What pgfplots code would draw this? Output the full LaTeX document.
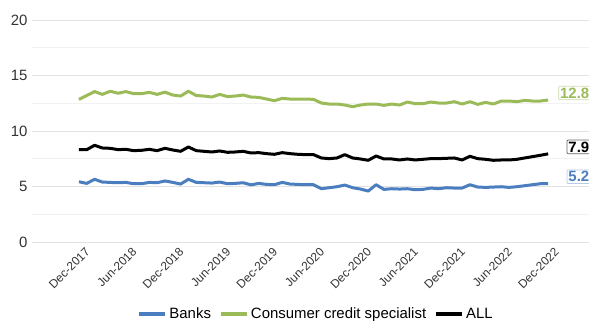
\documentclass[border=0pt]{standalone}
\usepackage{pgfplots}
\pgfplotsset{compat=1.18}
\usepackage{pgfplotstable}
\usepackage{fontspec}
\setmainfont{Liberation Sans}
\definecolor{cbank}{HTML}{4A7EBF}
\definecolor{ccs}{HTML}{9BBB59}
\definecolor{cgrid}{HTML}{E2E2E2}
\definecolor{cminor}{HTML}{F2F2F2}
\definecolor{ctick}{HTML}{333333}

\pgfplotstableread{
i banks ccs all
0 5.43 12.85 8.32
1 5.28 13.20 8.32
2 5.65 13.55 8.71
3 5.40 13.30 8.47
4 5.37 13.58 8.44
5 5.34 13.40 8.32
6 5.37 13.55 8.35
7 5.25 13.36 8.23
8 5.25 13.36 8.26
9 5.37 13.48 8.35
10 5.34 13.30 8.23
11 5.50 13.50 8.44
12 5.37 13.24 8.29
13 5.22 13.15 8.17
14 5.65 13.58 8.56
15 5.37 13.20 8.23
16 5.34 13.15 8.17
17 5.31 13.06 8.11
18 5.40 13.30 8.20
19 5.25 13.10 8.08
20 5.28 13.15 8.11
21 5.34 13.24 8.17
22 5.15 13.06 8.02
23 5.28 13.03 8.05
24 5.19 12.88 7.96
25 5.16 12.73 7.90
26 5.37 12.94 8.05
27 5.22 12.88 7.96
28 5.19 12.88 7.90
29 5.16 12.88 7.87
30 5.16 12.85 7.87
31 4.80 12.52 7.57
32 4.89 12.43 7.51
33 4.98 12.43 7.57
34 5.13 12.34 7.87
35 4.89 12.19 7.57
36 4.77 12.34 7.48
37 4.59 12.43 7.36
38 5.16 12.43 7.75
39 4.74 12.31 7.48
40 4.80 12.43 7.48
41 4.77 12.34 7.39
42 4.80 12.61 7.48
43 4.71 12.46 7.39
44 4.74 12.46 7.45
45 4.86 12.61 7.51
46 4.80 12.52 7.51
47 4.89 12.52 7.54
48 4.86 12.64 7.57
49 4.86 12.43 7.39
50 5.16 12.64 7.72
51 4.95 12.40 7.51
52 4.92 12.58 7.45
53 4.95 12.43 7.36
54 4.98 12.70 7.39
55 4.92 12.70 7.39
56 4.98 12.64 7.45
57 5.07 12.76 7.57
58 5.16 12.70 7.69
59 5.25 12.70 7.81
60 5.25 12.79 7.94
}\datatable

\begin{document}
\begin{tikzpicture}
\begin{axis}[
  scale only axis,
  width=578.7bp, height=222bp,
  xmin=-6, xmax=68, ymin=0, ymax=20,
  axis line style={draw=none},
  tick style={draw=none},
  ytick={0,5,10,15,20},
  minor ytick={2.5,7.5,12.5,17.5},
  ymajorgrids, yminorgrids,
  major grid style={cgrid, line width=0.8bp},
  minor grid style={cminor, line width=0.8bp},
  xtick={2,8,14,20,26,32,38,44,50,56,62},
  xticklabels={Dec-2017,Jun-2018,Dec-2018,Jun-2019,Dec-2019,Jun-2020,Dec-2020,Jun-2021,Dec-2021,Jun-2022,Dec-2022},
  xticklabel style={xshift=-10bp, yshift=-3bp, rotate=45, anchor=north east, inner sep=1bp, font=\fontsize{12}{13}\selectfont, text=ctick},
  yticklabel style={font=\fontsize{15}{17}\selectfont, text=ctick, anchor=east, xshift=-1bp},
  /pgf/number format/assume math mode=true,
  legend style={at={(0.491,-0.325)}, anchor=center, legend columns=-1, draw=none, fill=none,
    font=\fontsize{15}{17}\selectfont,
    /tikz/every even column/.append style={column sep=6bp}},
  legend image code/.code={\draw[line width=4bp] (0bp,0bp) -- (26bp,0bp);},
  clip=false,
]
\coordinate (O) at (rel axis cs:0,0);
\addplot[cbank, line width=3bp, line join=round] table[x=i, y=banks] {\datatable}
  node[pos=1, anchor=east, xshift=43bp, yshift=7bp, draw=cbank!40, line width=0.8bp, fill=white, rounded corners=1bp,
       inner sep=1.5bp, text=cbank, font=\bfseries\fontsize{15}{15}\selectfont] {5.2};
\addlegendentry{Banks}
\addplot[ccs, line width=3bp, line join=round] table[x=i, y=ccs] {\datatable}
  node[pos=1, anchor=east, xshift=43bp, yshift=7bp, draw=ccs!50, line width=0.8bp, fill=white, rounded corners=1bp,
       inner sep=1.5bp, text=ccs, font=\bfseries\fontsize{15}{15}\selectfont] {12.8};
\addlegendentry{Consumer credit specialist}
\addplot[black, line width=3bp, line join=round] table[x=i, y=all] {\datatable}
  node[pos=1, anchor=east, xshift=43bp, yshift=7bp, draw=black!60, line width=0.8bp, fill=white, rounded corners=1bp,
       inner sep=1.5bp, text=black, font=\bfseries\fontsize{15}{15}\selectfont] {7.9};
\addlegendentry{ALL}
\end{axis}
\pgfresetboundingbox
\path[use as bounding box] ([shift={(-32bp,-79bp)}]O) rectangle ([shift={(557bp,242bp)}]O);
\end{tikzpicture}
\end{document}
